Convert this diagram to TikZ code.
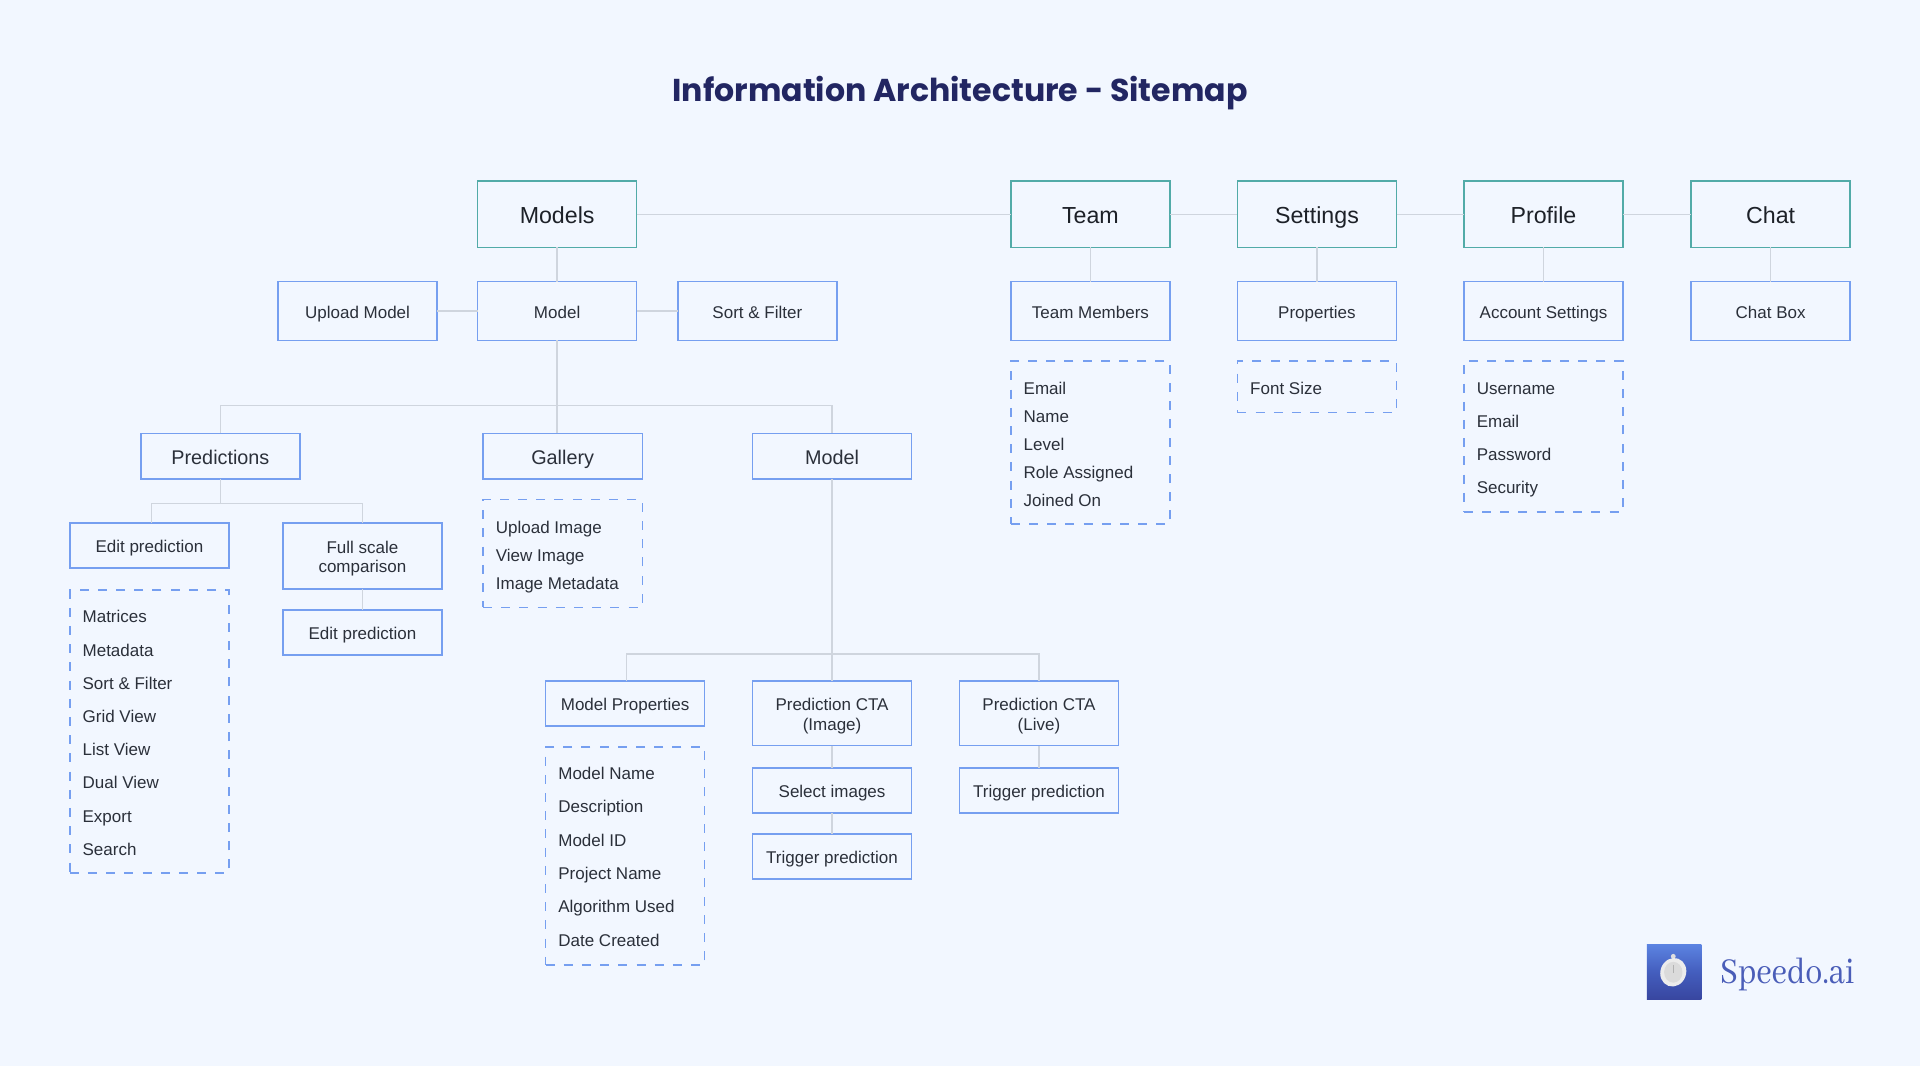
\documentclass[tikz,border=0pt]{standalone}
\usepackage{fontspec}
\usetikzlibrary{calc}
\setmainfont{Liberation Sans}
\newfontfamily\titlef{Poppins}
\newfontfamily\logof{Abhaya Libre}
\definecolor{bgc}{HTML}{F2F7FF}
\definecolor{bluec}{HTML}{769FF0}
\definecolor{tealc}{HTML}{52ABA8}
\definecolor{linec}{HTML}{CFD5DE}
\definecolor{textc}{HTML}{2B303A}
\definecolor{headc}{HTML}{1D2128}
\definecolor{titlec}{HTML}{222662}
\definecolor{logoc}{HTML}{4A5DB8}
\newcommand\st{\rule[-.2em]{0pt}{1.23em}}
\newcommand\sd{\rule[-.2em]{0pt}{.2em}}
\tikzset{
  boxbase/.style={inner sep=0pt,outer sep=0pt,line width=.75pt,align=center,text=textc,font=\fontsize{8.5}{9.8}\selectfont},
  sub/.style={boxbase,draw=bluec},
  mid/.style={boxbase,draw=bluec,font=\fontsize{9.9}{12}\selectfont},
  top/.style={boxbase,draw=tealc,text=headc,font=\fontsize{11.6}{14}\selectfont},
  dash box/.style={boxbase,draw=bluec,dash pattern=on 4.5pt off 4.6pt},
  item/.style={inner sep=0pt,outer sep=0pt,anchor=west,text=textc,font=\fontsize{8.5}{10}\selectfont},
  conn/.style={draw=linec,line width=.7pt},
}
% style, name, x1, y1, x2, y2, text (display units)
\newcommand\bx[7]{\node[#1,minimum width={(#5-#3)*0.612245pt},minimum height={(#6-#4)*0.612245pt}] (#2) at ({(#3+#5)/2},{(#4+#6)/2}) {#7};}
% name prefix, x, first y, step, items
\newcommand\items[5]{\foreach \t [count=\i from 0] in {#5} {\node[item] (#1\i) at (#2,{#3+\i*#4}) {\st\t};}}
\begin{document}
\begin{tikzpicture}[x=0.612245pt,y=-0.612245pt]
\path[fill=bgc] (0,0) rectangle (1568,870.6);
\useasboundingbox (0,0) rectangle (1568,870.6);
\node[inner sep=0pt,text=titlec,font=\fontsize{15.8}{20}\titlef\bfseries] (title) at (784,76) {Information Architecture - Sitemap};

% top row
\bx{top}{models}{390}{148}{520}{202}{\st Models}
\bx{top}{team}{825.5}{148}{955.5}{202}{\st Team}
\bx{top}{settings}{1010.5}{148}{1140.5}{202}{\st Settings}
\bx{top}{profile}{1195.5}{148}{1325.5}{202}{\st Profile}
\bx{top}{chat}{1381}{148}{1511}{202}{\st Chat}
% second row
\bx{sub}{upload}{227}{230}{357}{278}{\st Upload Model}
\bx{sub}{modelb}{390}{230}{520}{278}{\st Model}
\bx{sub}{sortf}{553.5}{230}{683.5}{278}{\st Sort \& Filter}
\bx{sub}{members}{825.5}{230}{955.5}{278}{\st Team Members}
\bx{sub}{props}{1010.5}{230}{1140.5}{278}{\st Properties}
\bx{sub}{account}{1195.5}{230}{1325.5}{278}{\st Account Settings}
\bx{sub}{chatbox}{1381}{230}{1511}{278}{\st Chat Box}
% dashed lists upper right
\bx{dash box}{dteam}{825.5}{295}{955.5}{428}{}
\items{lt}{836}{316}{23}{Email,Name,Level,Role Assigned,Joined On}
\bx{dash box}{dprops}{1010.5}{295}{1140.5}{337}{}
\items{lf}{1021}{316}{23}{Font Size}
\bx{dash box}{dprofile}{1195.5}{295}{1325.5}{418}{}
\items{lp}{1206}{316}{27.2}{Username,Email,Password,Security}
% third row
\bx{mid}{pred}{115}{354}{245}{391}{\st Predictions}
\bx{mid}{gallery}{394.5}{354}{524.5}{391}{\st Gallery}
\bx{mid}{modelc}{614.5}{354}{744.5}{391}{\st Model}
\bx{dash box}{dgal}{394.5}{408}{524.5}{496}{}
\items{lg}{405}{430}{23}{Upload Image,View Image,Image Metadata}
% predictions subtree
\bx{sub}{editp}{57}{427}{187}{464}{\st Edit prediction}
\bx{sub}{fullc}{231}{427}{361}{481}{\st Full scale\\comparison\sd}
\bx{sub}{editq}{231}{498}{361}{535}{\st Edit prediction}
\bx{dash box}{dedit}{57}{482}{187}{713}{}
\items{le}{67.5}{503}{27.1}{Matrices,Metadata,Sort \& Filter,Grid View,List View,Dual View,Export,Search}
% model subtree
\bx{sub}{mprops}{445.5}{556}{575.5}{593}{\st Model Properties}
\bx{dash box}{dmp}{445.5}{610}{575.5}{788}{}
\items{lm}{456}{631}{27.2}{Model Name,Description,Model ID,Project Name,Algorithm Used,Date Created}
\bx{sub}{ctai}{614.5}{556}{744.5}{609}{\st Prediction CTA\\(Image)\sd}
\bx{sub}{selimg}{614.5}{627}{744.5}{664}{\st Select images}
\bx{sub}{trigi}{614.5}{681}{744.5}{718}{\st Trigger prediction}
\bx{sub}{ctal}{783.5}{556}{913.5}{609}{\st Prediction CTA\\(Live)\sd}
\bx{sub}{trigl}{783.5}{627}{913.5}{664}{\st Trigger prediction}

% bus points
\coordinate (busa) at (455.5,331);
\coordinate (busb) at (180,411);
\coordinate (busc) at (680,534);

% connectors
\draw[conn] (models.east) -- (team.west);
\draw[conn] (team.east) -- (settings.west);
\draw[conn] (settings.east) -- (profile.west);
\draw[conn] (profile.east) -- (chat.west);
\draw[conn] (models.south) -- (modelb.north);
\draw[conn] (team.south) -- (members.north);
\draw[conn] (settings.south) -- (props.north);
\draw[conn] (profile.south) -- (account.north);
\draw[conn] (chat.south) -- (chatbox.north);
\draw[conn] (upload.east) -- (modelb.west);
\draw[conn] (modelb.east) -- (sortf.west);
\draw[conn] (modelb.south) -- (modelb.south |- gallery.north);
\draw[conn] (pred.north) |- (busa) -| (modelc.north);
\draw[conn] (pred.south) -- (busb);
\draw[conn] ([xshift=1pt]editp.north) |- (busb) -| (fullc.north);
\draw[conn] (fullc.south) -- (editq.north);
\draw[conn] (modelc.south) -- (ctai.north);
\draw[conn] ([xshift=.7pt]mprops.north) |- (busc) -| (ctal.north);
\draw[conn] (ctai.south) -- (selimg.north);
\draw[conn] (selimg.south) -- (trigi.north);
\draw[conn] (ctal.south) -- (trigl.north);

% logo
\shade[shading angle=-15,top color={rgb,255:red,92;green,132;blue,226},bottom color={rgb,255:red,56;green,70;blue,160},middle color={rgb,255:red,68;green,94;blue,190}] (1345,771) rectangle (1389.5,816);
\fill[white!75!gray] (1366.5,781) circle (2);
\fill[white!85!gray,rotate around={-20:(1366.5,794)}] (1366.5,794) ellipse (10.5 and 11.8);
\fill[white!72!gray] (1366.5,794) ellipse (7.5 and 8.5);
\draw[white!40!gray,line width=.5pt] (1366.5,788) -- (1366.5,795);
\node[inner sep=0pt,anchor=west,text=logoc,font=\fontsize{20}{24}\logof] (logo) at (1404.5,796) {\scalebox{.85}[1]{Speedo.ai}};
\end{tikzpicture}
\end{document}
